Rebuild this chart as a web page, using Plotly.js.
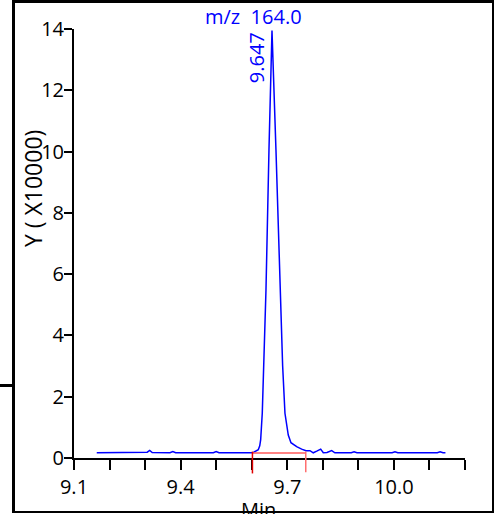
<!DOCTYPE html>
<html>
<head>
<meta charset="utf-8">
<script src="https://cdn.plot.ly/plotly-3.0.1.min.js"></script>
<style>
  html, body { margin: 0; padding: 0; background: #fff; }
  #wrap { position: relative; width: 498px; height: 514px; overflow: hidden; }
  #chart { position: absolute; left: 0; top: 0; width: 498px; height: 514px; }
  #frame { position: absolute; left: 12px; top: 0; width: 482px; height: 513px; box-sizing: border-box;
           border-top: 3px solid #000; border-left: 3px solid #000; border-right: 2px solid #000; border-bottom: 2px solid #000;
           pointer-events: none; }
  #stub { position: absolute; left: 0; top: 384px; width: 13px; height: 3px; background: #000; }
</style>
</head>
<body>
<div id="wrap">
  <div id="chart"></div>
  <div id="frame"></div>
  <div id="stub"></div>
</div>
<script>
// Retention time (min)
var rt = [9.164, 9.180, 9.187, 9.194, 9.201, 9.208, 9.300, 9.306, 9.313, 9.320,
          9.370, 9.378, 9.386, 9.492, 9.500, 9.508, 9.6027, 9.610, 9.6184, 9.6225,
          9.6252, 9.6297, 9.6325, 9.6353, 9.6401, 9.6485, 9.657, 9.6682, 9.6803, 9.687,
          9.6935, 9.698, 9.7028, 9.7104, 9.7264, 9.7405, 9.7526, 9.7639, 9.7731, 9.7844,
          9.794, 9.8013, 9.8117, 9.8249, 9.834, 9.880, 9.888, 9.896, 9.995, 10.003,
          10.011, 10.122, 10.130, 10.138, 10.145];
// Intensity (x10000)
var intensity = [0.17, 0.17, 0.19, 0.17, 0.19, 0.17, 0.17, 0.19, 0.25, 0.18,
                 0.17, 0.21, 0.17, 0.17, 0.21, 0.17, 0.17, 0.22, 0.27, 0.40,
                 0.60, 1.47, 2.55, 3.31, 5.48, 10.05, 13.95, 10.05, 5.30, 3.00,
                 1.46, 1.13, 0.75, 0.50, 0.37, 0.29, 0.24, 0.24, 0.17, 0.23,
                 0.29, 0.17, 0.18, 0.24, 0.17, 0.17, 0.20, 0.17, 0.17, 0.20,
                 0.17, 0.17, 0.20, 0.17, 0.17];
// Integration window
var integStart = 9.602;
var integEnd = 9.752;
var integBase = 0.16;
// Labels
var massLabel = "m/z\u00A0\u00A0164.0";
var peakRtLabel = "9.647";
var peakLabelPos = [9.614, 13.07];
var xTickVals = [9.1, 9.4, 9.7, 10.0];
var xRange = [9.1, 10.2];
var yRange = [0, 14];

var FONT = "Open Sans, Noto Sans, sans-serif";
var trace = {
  x: rt, y: intensity, type: 'scatter', mode: 'lines',
  line: {color: '#0000ff', width: 1.5}, hoverinfo: 'skip'
};

var layout = {
  width: 498, height: 514,
  margin: {l: 74, r: 33, t: 29, b: 56, pad: 0},
  paper_bgcolor: '#fff', plot_bgcolor: '#fff',
  showlegend: false,
  font: {family: FONT, size: 20, color: '#000'},
  xaxis: {
    range: xRange, tickmode: 'array', tickvals: xTickVals,
    ticktext: xTickVals.map(function(v){ return v.toFixed(1); }),
    ticks: 'outside', ticklen: 10, tickwidth: 2, tickcolor: '#000',
    minor: {ticks: 'outside', ticklen: 10, tickwidth: 2, tickcolor: '#000', tick0: 9.1, dtick: 0.1, showgrid: false},
    showline: true, linecolor: '#000', linewidth: 2,
    showgrid: false, zeroline: false, tickfont: {size: 20, family: FONT, color: '#000'}
  },
  yaxis: {
    range: yRange, tickmode: 'linear', tick0: 0, dtick: 2,
    ticks: 'outside', ticklen: 8, tickwidth: 2, tickcolor: '#000',
    showline: true, linecolor: '#000', linewidth: 2,
    showgrid: false, zeroline: false, ticklabelstandoff: -4,
    tickfont: {size: 20, family: FONT, color: '#000'}
  },
  annotations: [
    {text: massLabel, xref: 'paper', yref: 'paper', x: 0.458, y: 1.028, xanchor: 'center', yanchor: 'middle',
     showarrow: false, font: {size: 20, color: '#0000ff', family: FONT}},
    {text: peakRtLabel, xref: 'x', yref: 'y', x: peakLabelPos[0], y: peakLabelPos[1], textangle: -90,
     xanchor: 'center', yanchor: 'middle', showarrow: false, font: {size: 20, color: '#0000ff', family: FONT}},
    {text: 'Y ( X10000)', xref: 'paper', yref: 'paper', x: -0.105, y: 0.629, textangle: -90,
     xanchor: 'center', yanchor: 'middle', showarrow: false, font: {size: 23, color: '#000', family: FONT}},
    {text: 'Min', xref: 'paper', yref: 'paper', x: 0.473, y: -0.119, xanchor: 'center', yanchor: 'middle',
     showarrow: false, font: {size: 20, color: '#000', family: FONT}}
  ],
  shapes: [
    {type: 'line', xref: 'x', yref: 'y', x0: integStart, x1: integEnd, y0: integBase, y1: integBase,
     line: {color: '#ff5a5a', width: 1.5}},
    {type: 'line', xref: 'x', yref: 'paper', x0: integStart, x1: integStart,
     y0: (integBase + 0.05) / yRange[1], y1: -0.036, line: {color: '#e00000', width: 1.5}},
    {type: 'line', xref: 'x', yref: 'paper', x0: integEnd, x1: integEnd,
     y0: (integBase + 0.05) / yRange[1], y1: -0.033, line: {color: '#ff6e6e', width: 1.5}}
  ]
};

Plotly.newPlot('chart', [trace], layout, {displayModeBar: false, staticPlot: true});
</script>
</body>
</html>
